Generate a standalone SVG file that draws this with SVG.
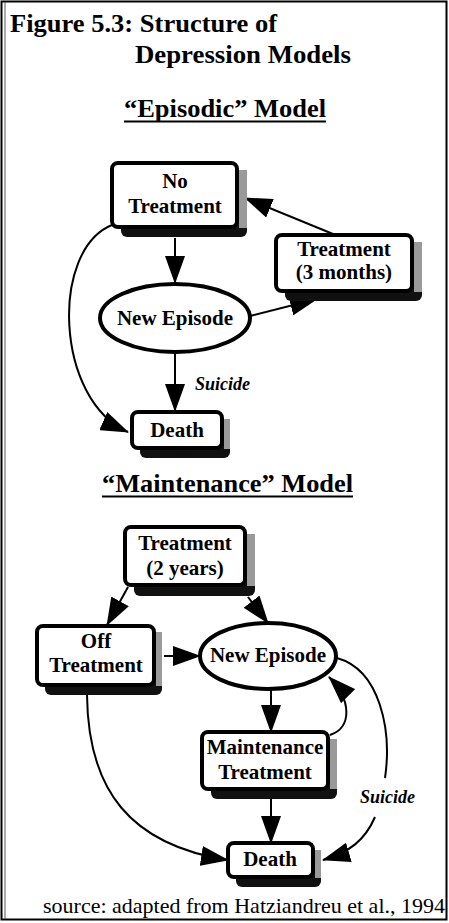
<svg xmlns="http://www.w3.org/2000/svg" width="449" height="923" viewBox="0 0 449 923">
<style>
.t{font-family:"Liberation Serif","Times New Roman",serif;font-weight:bold;fill:#000}
.n{font-size:21px;text-anchor:middle}
.h{font-size:26px}
.s{font-family:"Liberation Serif","Times New Roman",serif;font-style:italic;font-weight:bold;font-size:18px;fill:#000}
.box{fill:#fff;stroke:#000;stroke-width:4}
.sh{fill:#111}
.sg{fill:#9a9a9a}
.c{fill:none;stroke:#000;stroke-width:2}
</style>
<defs>
<marker id="ar" markerUnits="userSpaceOnUse" markerWidth="28" markerHeight="20" viewBox="0 0 28 20" refX="27" refY="10" orient="auto">
<path d="M0,0 L28,10 L0,20 Z" fill="#000"/>
</marker>
</defs>
<rect x="1.5" y="1.5" width="445" height="918" fill="#fff" stroke="#000" stroke-width="2"/>
<line x1="5" y1="2" x2="5" y2="919" stroke="#555" stroke-width="1"/>
<g id="title">
<text class="t h" x="10" y="32" textLength="267" lengthAdjust="spacingAndGlyphs">Figure 5.3: Structure of</text>
<text class="t h" x="135" y="63" textLength="216" lengthAdjust="spacingAndGlyphs">Depression Models</text>
</g>
<g id="episodic-heading">
<text class="t h" x="124" y="117" textLength="202" lengthAdjust="spacingAndGlyphs">“Episodic” Model</text>
<line x1="124" y1="121.5" x2="326" y2="121.5" stroke="#000" stroke-width="2"/>
</g>
<g id="connectors">
<line class="c" x1="175" y1="238" x2="175" y2="283" marker-end="url(#ar)"/>
<line class="c" x1="333" y1="234" x2="245" y2="198" marker-end="url(#ar)"/>
<line class="c" x1="250" y1="316" x2="317" y2="299" marker-end="url(#ar)"/>
<path class="c" d="M112,225 C50,250 55,400 128,432" marker-end="url(#ar)"/>
<line class="c" x1="175" y1="352" x2="175" y2="411" marker-end="url(#ar)"/>
<line class="c" x1="128" y1="587" x2="107" y2="625" marker-end="url(#ar)"/>
<line class="c" x1="248" y1="597" x2="268" y2="623" marker-end="url(#ar)"/>
<line class="c" x1="164" y1="656" x2="200" y2="656" marker-end="url(#ar)"/>
<line class="c" x1="271" y1="689" x2="271" y2="732" marker-end="url(#ar)"/>
<path class="c" d="M330,735 C352,728 352,700 329,677" marker-end="url(#ar)"/>
<path class="c" d="M337,658 C380,670 392,730 385,778"/>
<path class="c" d="M375,817 C365,840 350,852 323,860" marker-end="url(#ar)"/>
<line class="c" x1="271" y1="799" x2="271" y2="843" marker-end="url(#ar)"/>
<path class="c" d="M87,695 C88,790 130,845 228,860" marker-end="url(#ar)"/>
</g>
<g id="no-treatment">
<rect class="sh" x="121" y="173" width="126" height="64" rx="6"/>
<rect class="sg" x="239" y="170" width="8" height="58"/>
<rect class="box" x="112" y="163" width="125" height="64" rx="6"/>
<text class="t n" x="175" y="188">No</text>
<text class="t n" x="175" y="213">Treatment</text>
</g>
<g id="treatment-3-months">
<rect class="sh" x="285" y="245" width="137" height="56" rx="6"/>
<rect class="sg" x="414" y="242" width="8" height="50"/>
<rect class="box" x="276" y="235" width="136" height="56" rx="6"/>
<text class="t n" x="344" y="256">Treatment</text>
<text class="t n" x="344" y="279">(3 months)</text>
</g>
<g id="new-episode-1">
<ellipse class="box" cx="175" cy="318" rx="75" ry="34"/>
<text class="t n" x="175" y="325">New Episode</text>
</g>
<g id="suicide-1">
<text class="s" x="195" y="390">Suicide</text>
</g>
<g id="death-1">
<rect class="sh" x="140" y="422" width="90" height="36" rx="6"/>
<rect class="sg" x="224" y="419" width="6" height="30"/>
<rect class="box" x="132" y="412" width="90" height="36" rx="6"/>
<text class="t n" x="177" y="437">Death</text>
</g>
<g id="maintenance-heading">
<text class="t h" x="102" y="492" textLength="251" lengthAdjust="spacingAndGlyphs">“Maintenance” Model</text>
<line x1="102" y1="496.5" x2="353" y2="496.5" stroke="#000" stroke-width="2"/>
</g>
<g id="treatment-2-years">
<rect class="sh" x="134" y="538" width="121" height="58" rx="6"/>
<rect class="sg" x="247" y="534" width="8" height="52"/>
<rect class="box" x="125" y="527" width="120" height="58" rx="6"/>
<text class="t n" x="185" y="550">Treatment</text>
<text class="t n" x="185" y="575">(2 years)</text>
</g>
<g id="off-treatment">
<rect class="sh" x="45" y="636" width="117" height="59" rx="6"/>
<rect class="sg" x="156" y="632" width="6" height="54"/>
<rect class="box" x="37" y="626" width="117" height="59" rx="6"/>
<text class="t n" x="96" y="648">Off</text>
<text class="t n" x="96" y="672">Treatment</text>
</g>
<g id="new-episode-2">
<ellipse class="box" cx="268" cy="656" rx="68" ry="33"/>
<text class="t n" x="268" y="662">New Episode</text>
</g>
<g id="maintenance-treatment">
<rect class="sh" x="211" y="742" width="126" height="57" rx="6"/>
<rect class="sg" x="330" y="739" width="7" height="50"/>
<rect class="box" x="202" y="732" width="126" height="57" rx="6"/>
<text class="t n" x="265" y="754">Maintenance</text>
<text class="t n" x="265" y="779">Treatment</text>
</g>
<g id="suicide-2">
<text class="s" x="360" y="803">Suicide</text>
</g>
<g id="death-2">
<rect class="sh" x="236" y="853" width="85" height="34" rx="6"/>
<rect class="sg" x="315" y="850" width="6" height="28"/>
<rect class="box" x="228" y="843" width="85" height="34" rx="6"/>
<text class="t n" x="270" y="866">Death</text>
</g>
<g id="source">
<text x="43" y="913" font-family="Liberation Serif, Times New Roman, serif" font-size="22" textLength="402" lengthAdjust="spacingAndGlyphs">source: adapted from Hatziandreu et al., 1994</text>
</g>
</svg>
